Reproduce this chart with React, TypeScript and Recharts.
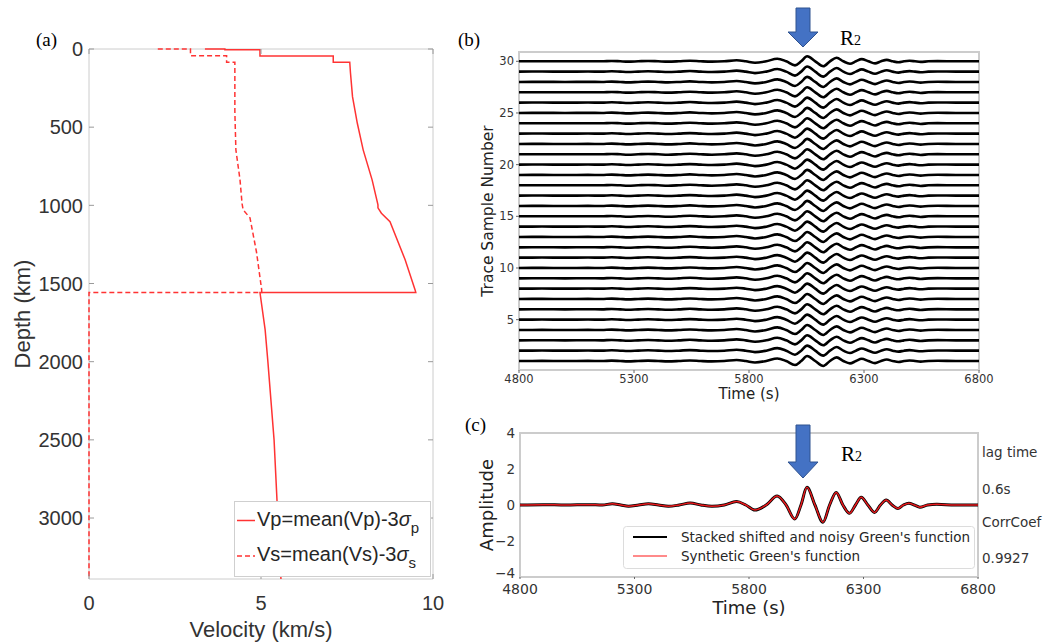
import {
  ScatterChart,
  Scatter,
  LineChart,
  Line,
  XAxis,
  YAxis,
  ReferenceArea,
} from "recharts";

// ── (a) velocity profiles (depth km / velocity km/s) ──
const VP_DEPTH = [0, 0, 4, 4, 45, 45, 85, 85, 150, 305, 475, 645, 837, 997, 1016, 1050, 1105, 1348, 1541, 1558, 1558, 1795, 2000, 2500, 3000, 3390];
const VP_VEL = [3.37, 3.95, 3.95, 4.97, 4.97, 7.1, 7.1, 7.58, 7.6, 7.66, 7.8, 7.97, 8.23, 8.4, 8.4, 8.5, 8.75, 9.19, 9.48, 9.5, 4.97, 5.12, 5.2, 5.38, 5.49, 5.58];
const VS_DEPTH = [0, 0, 43, 43, 85, 85, 400, 645, 837, 990, 1029, 1080, 1300, 1541, 1558, 1558, 3390];
const VS_VEL = [2.0, 2.95, 2.95, 4.0, 4.0, 4.24, 4.24, 4.27, 4.39, 4.45, 4.48, 4.68, 4.87, 5.02, 5.02, 0, 0];
const DEPTH_TICKS = [0, 500, 1000, 1500, 2000, 2500, 3000];
const VEL_TICKS = [0, 5, 10];

// ── (b)/(c) Green's function waveform (time s / amplitude) ──
const TIMES = [4800, 4900, 5000, 5100, 5160, 5203, 5240, 5274, 5318, 5361, 5405, 5448, 5495, 5543, 5590, 5638, 5692, 5746, 5786, 5826, 5875, 5923, 5962, 6000, 6027, 6053, 6088, 6123, 6152, 6181, 6210, 6239, 6265, 6290, 6319, 6348, 6374, 6399, 6425, 6450, 6474, 6498, 6522, 6546, 6580, 6620, 6700, 6800];
const GREEN = [0, 0.02, 0, 0.02, 0, 0.07, 0, -0.07, 0, 0.07, 0, -0.07, 0, 0.11, 0, -0.07, 0, 0.19, 0, -0.28, 0, 0.5, 0, -0.78, 0, 0.98, 0, -0.96, 0, 0.7, 0, -0.46, 0, 0.43, 0, -0.41, 0, 0.28, 0, -0.19, 0, 0.1, 0, -0.12, 0, 0.04, 0, 0];
const TRACE_NUMBERS = [1, 2, 3, 4, 5, 6, 7, 8, 9, 10, 11, 12, 13, 14, 15, 16, 17, 18, 19, 20, 21, 22, 23, 24, 25, 26, 27, 28, 29, 30];
const TRACE_GAIN = 0.5;
const TIME_TICKS = [4800, 5300, 5800, 6300, 6800];
const TRACE_TICKS = [5, 10, 15, 20, 25, 30];
const AMP_TICKS = [-4, -2, 0, 2, 4];

const SANS_A = "'Liberation Sans', Arial, sans-serif";
const SANS = "'DejaVu Sans', sans-serif";
const SERIF = "'Liberation Serif', 'Times New Roman', serif";
const RED = "#f33";
const FRAME = "#cccccc";
const TICK_GRAY = "#9a9a9a";

// plot box of panel (a)
const A_LEFT = 89;
const A_RIGHT = 433;
const A_TOP = 49;
const A_BOTTOM = 579;

const vpData = VP_DEPTH.map((d, i) => ({ d, v: VP_VEL[i] }));
const vsData = VS_DEPTH.map((d, i) => ({ d, v: VS_VEL[i] }));

const traceData = TIMES.map((t, i) => {
  const row: Record<string, number> = { t };
  TRACE_NUMBERS.forEach((n) => {
    row["tr" + n] = n + TRACE_GAIN * GREEN[i];
  });
  return row;
});

const greenData = TIMES.map((t, i) => ({ t, stacked: GREEN[i], synthetic: GREEN[i] }));

function DepthTick(props: any) {
  const { x, y, payload } = props;
  return (
    <g>
      <line x1={A_LEFT} x2={A_LEFT + 5} y1={y} y2={y} stroke={TICK_GRAY} />
      <line x1={A_RIGHT - 5} x2={A_RIGHT} y1={y} y2={y} stroke={TICK_GRAY} />
      <text x={x} y={y} dy="0.36em" textAnchor="end" fontSize={20} fill="#333" fontFamily={SANS_A}>
        {payload.value}
      </text>
    </g>
  );
}

function VelTick(props: any) {
  const { x, y, payload } = props;
  return (
    <g>
      <line x1={x} x2={x} y1={A_BOTTOM} y2={A_BOTTOM - 5} stroke={TICK_GRAY} />
      <line x1={x} x2={x} y1={A_TOP} y2={A_TOP + 5} stroke={TICK_GRAY} />
      <text x={x} y={y} dy="0.71em" textAnchor="middle" fontSize={20} fill="#333" fontFamily={SANS_A}>
        {payload.value}
      </text>
    </g>
  );
}

// amplitude ticks; the bottom one is lifted a little so it clears the 4800 label
function AmpTick(props: any) {
  const { x, y, payload } = props;
  const v = payload.value as number;
  const lift = v === -4 ? -4 : 0;
  return (
    <text x={x} y={y + lift} dy="0.36em" textAnchor="end" fontSize={13.5} fill="#333" fontFamily={SANS}>
      {v < 0 ? "\u2212" + Math.abs(v) : String(v)}
    </text>
  );
}

const noDot = () => <g />;

export default function App() {
  return (
    <div
      style={{
        position: "absolute",
        left: 0,
        top: 0,
        width: 1043,
        height: 642,
        background: "#fff",
        overflow: "hidden",
      }}
    >
      {/* ── (a) velocity vs depth ── */}
      <div style={{ position: "absolute", left: 0, top: 0 }}>
        <ScatterChart width={450} height={642} margin={{ top: A_TOP, right: 17, bottom: 0, left: 0 }}>
          <XAxis
            type="number"
            dataKey="v"
            domain={[0, 10]}
            ticks={VEL_TICKS}
            height={63}
            tickSize={0}
            tickMargin={17}
            axisLine={false}
            tick={(p: any) => <VelTick {...p} />}
            label={{
              value: "Velocity (km/s)",
              position: "insideBottom",
              offset: 5,
              style: { fontSize: 22, fill: "#333", fontFamily: SANS_A },
            }}
          />
          <YAxis
            type="number"
            dataKey="d"
            domain={[0, 3390]}
            reversed
            ticks={DEPTH_TICKS}
            width={89}
            tickSize={0}
            tickMargin={6}
            axisLine={false}
            tick={(p: any) => <DepthTick {...p} />}
            label={{
              value: "Depth (km)",
              angle: -90,
              position: "insideLeft",
              offset: 22,
              style: { fontSize: 22, fill: "#333", fontFamily: SANS_A, textAnchor: "middle" },
            }}
          />
          <ReferenceArea x1={0} x2={10} y1={0} y2={3390} fill="none" stroke={FRAME} strokeWidth={1} />
          <Scatter
            data={vsData}
            line={{ stroke: RED, strokeWidth: 1.5, strokeDasharray: "5 3" }}
            lineType="joint"
            shape={noDot}
            isAnimationActive={false}
          />
          <Scatter
            data={vpData}
            line={{ stroke: RED, strokeWidth: 1.5 }}
            lineType="joint"
            shape={noDot}
            isAnimationActive={false}
          />
        </ScatterChart>
      </div>

      {/* legend (a) */}
      <svg style={{ position: "absolute", left: 234, top: 501 }} width={198} height={77}>
        <rect x={0.5} y={0.5} width={196} height={75} fill="#fff" stroke="#cfcfcf" />
        <line x1={3} x2={21} y1={19.5} y2={19.5} stroke={RED} strokeWidth={1.5} />
        <text x={23} y={25} fontSize={20} fill="#262626" fontFamily={SANS_A}>
          Vp=mean(Vp)-3<tspan fontStyle="italic">σ</tspan>
          <tspan dy={7} fontSize={15}>p</tspan>
        </text>
        <line x1={3} x2={21} y1={55} y2={55} stroke={RED} strokeWidth={1.5} strokeDasharray="5 3" />
        <text x={23} y={60} fontSize={20} fill="#262626" fontFamily={SANS_A}>
          Vs=mean(Vs)-3<tspan fontStyle="italic">σ</tspan>
          <tspan dy={7} fontSize={15}>s</tspan>
        </text>
      </svg>

      {/* ── (b) trace gather ── */}
      <div style={{ position: "absolute", left: 440, top: 0 }}>
        <LineChart width={560} height={410} data={traceData} margin={{ top: 52, right: 21, bottom: 0, left: 0 }}>
          <XAxis
            type="number"
            dataKey="t"
            domain={[4800, 6800]}
            ticks={TIME_TICKS}
            height={40}
            tickSize={3}
            tickMargin={2}
            axisLine={false}
            tickLine={{ stroke: "#666" }}
            tick={{ fontSize: 11.5, fill: "#333", fontFamily: SANS }}
            label={{
              value: "Time (s)",
              position: "insideBottom",
              offset: 11,
              style: { fontSize: 15, fill: "#222", fontFamily: SANS },
            }}
          />
          <YAxis
            type="number"
            domain={[0.13, 30.9]}
            ticks={TRACE_TICKS}
            width={79}
            tickSize={3}
            tickMargin={2}
            axisLine={false}
            tickLine={{ stroke: "#666" }}
            tick={{ fontSize: 11.5, fill: "#333", fontFamily: SANS }}
            allowDataOverflow
            label={{
              value: "Trace Sample Number",
              angle: -90,
              position: "insideLeft",
              offset: 47,
              style: { fontSize: 15.5, fill: "#222", fontFamily: SANS, textAnchor: "middle" },
            }}
          />
          <ReferenceArea x1={4800} x2={6800} y1={0.13} y2={30.9} fill="none" stroke={FRAME} strokeWidth={2} />
          {TRACE_NUMBERS.map((n) => (
            <Line
              key={n}
              type="monotone"
              dataKey={"tr" + n}
              stroke="#000"
              strokeWidth={2.6}
              dot={false}
              isAnimationActive={false}
            />
          ))}
        </LineChart>
      </div>

      {/* ── (c) stacked vs synthetic ── */}
      <div style={{ position: "absolute", left: 440, top: 400 }}>
        <LineChart width={560} height={242} data={greenData} margin={{ top: 33, right: 22, bottom: 0, left: 0 }}>
          <XAxis
            type="number"
            dataKey="t"
            domain={[4800, 6800]}
            ticks={TIME_TICKS}
            height={65}
            tickSize={2}
            tickMargin={5}
            axisLine={false}
            tickLine={{ stroke: "#666" }}
            tick={{ fontSize: 14, fill: "#333", fontFamily: SANS }}
            label={{
              value: "Time (s)",
              position: "insideBottom",
              offset: 28,
              style: { fontSize: 18, fill: "#222", fontFamily: SANS },
            }}
          />
          <YAxis
            type="number"
            domain={[-4, 4]}
            ticks={AMP_TICKS}
            width={80}
            tickSize={0}
            tickMargin={5}
            axisLine={false}
            tick={(p: any) => <AmpTick {...p} />}
            label={{
              value: "Amplitude",
              angle: -90,
              position: "insideLeft",
              offset: 47,
              style: { fontSize: 18, fill: "#222", fontFamily: SANS, textAnchor: "middle" },
            }}
          />
          <ReferenceArea x1={4800} x2={6800} y1={-4} y2={4} fill="none" stroke={FRAME} strokeWidth={2} />
          <Line type="monotone" dataKey="stacked" stroke="#000" strokeWidth={3} dot={false} isAnimationActive={false} />
          <Line type="monotone" dataKey="synthetic" stroke="#e8191c" strokeWidth={1.5} dot={false} isAnimationActive={false} />
        </LineChart>
      </div>

      {/* legend (c) */}
      <svg style={{ position: "absolute", left: 623, top: 526 }} width={354} height={44}>
        <rect x={0.5} y={0.5} width={351} height={42} rx={3} fill="#fff" fillOpacity={0.85} stroke="#dcdcdc" />
        <line x1={10} x2={44} y1={11} y2={11} stroke="#000" strokeWidth={2} />
        <text x={58} y={16} fontSize={13.5} fill="#262626" fontFamily={SANS}>
          Stacked shifted and noisy Green's function
        </text>
        <line x1={10} x2={44} y1={30} y2={30} stroke="#ff8a8a" strokeWidth={2} />
        <text x={58} y={35} fontSize={13.5} fill="#262626" fontFamily={SANS}>
          Synthetic Green's function
        </text>
      </svg>

      {/* annotations: panel letters, R2 arrows, fit stats */}
      <svg style={{ position: "absolute", left: 0, top: 0, pointerEvents: "none" }} width={1043} height={642}>
        <text x={36} y={46} fontSize={19} fill="#000" fontFamily={SERIF}>(a)</text>
        <text x={458} y={46} fontSize={19} fill="#000" fontFamily={SERIF}>(b)</text>
        <text x={465} y={431} fontSize={19} fill="#000" fontFamily={SERIF}>(c)</text>

        <polygon points="796,8 810,8 810,32 818,32 803,47 788,32 796,32" fill="#4472C4" stroke="#2F528F" strokeWidth={1} />
        <text x={840} y={45} fontSize={21} fill="#000" fontFamily={SERIF}>
          R<tspan fontSize={14}>2</tspan>
        </text>

        <polygon points="796,425 810,425 810,462 818,462 803,478 788,462 796,462" fill="#4472C4" stroke="#2F528F" strokeWidth={1} />
        <text x={841} y={461} fontSize={21} fill="#000" fontFamily={SERIF}>
          R<tspan fontSize={14}>2</tspan>
        </text>

        <text x={982} y={457} fontSize={13.5} fill="#333" fontFamily={SANS}>lag time</text>
        <text x={982} y={494} fontSize={13.5} fill="#333" fontFamily={SANS}>0.6s</text>
        <text x={982} y={527} fontSize={13.5} fill="#333" fontFamily={SANS}>CorrCoef</text>
        <text x={982} y={563} fontSize={13.5} fill="#333" fontFamily={SANS}>0.9927</text>
      </svg>
    </div>
  );
}
